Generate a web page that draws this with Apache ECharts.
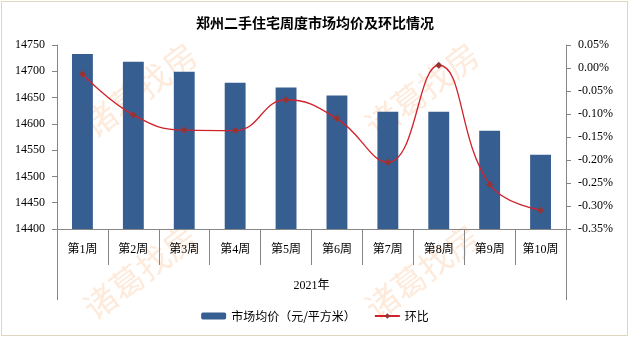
<!DOCTYPE html>
<html>
<head>
<meta charset="utf-8">
<script src="https://cdn.jsdelivr.net/npm/echarts@6/dist/echarts.min.js"></script>
<style>
html,body{margin:0;padding:0;background:#fff;}
#wrap{position:relative;width:630px;height:338px;}
#chart{position:absolute;left:0;top:0;width:630px;height:338px;}
#frame{position:absolute;left:1px;top:1px;width:627px;height:335px;box-sizing:border-box;border:1px solid #DDD8BE;pointer-events:none;}
</style>
</head>
<body>
<div id="wrap"><div id="chart"></div><div id="frame"></div></div>
<script>
const weeks = ['第1周','第2周','第3周','第4周','第5周','第6周','第7周','第8周','第9周','第10周'];
const yearLabel = ['2021年'];
const price = [14733, 14718, 14699, 14678, 14669, 14654, 14623, 14623, 14587, 14541];
const change = [-0.013, -0.102, -0.135, -0.136, -0.069, -0.110, -0.205, 0.006, -0.253, -0.309];
const seriesNames = ['市场均价（元/平方米）', '环比'];
const titleText = '郑州二手住宅周度市场均价及环比情况';
const watermark = '诸葛找房';

const serif = '"Liberation Serif","Times New Roman","Noto Sans CJK SC",serif';
const cjk = '"Noto Sans CJK SC","Liberation Serif",sans-serif';
const axisGray = '#868686';

const chart = echarts.init(document.getElementById('chart'));
const wmPos = [[140, 90], [422, 90], [140, 272], [422, 272]];
chart.setOption({
  backgroundColor: '#ffffff',
  animation: false,
  title: {
    text: titleText,
    left: 'center',
    top: 11,
    textStyle: {fontFamily: cjk, fontSize: 14, fontWeight: 'bold', color: '#000'}
  },
  graphic: wmPos.map(p => ({
    type: 'text',
    x: p[0], y: p[1],
    rotation: Math.PI * 37 / 180,
    z: -10,
    silent: true,
    style: {text: watermark, fill: 'rgba(250,185,135,0.3)', font: '33px "Noto Sans CJK SC"', align: 'center', verticalAlign: 'middle'}
  })),
  legend: {
    bottom: 11,
    left: 'center',
    itemWidth: 25,
    itemHeight: 7,
    itemGap: 18,
    textStyle: {fontFamily: cjk, fontSize: 12, color: '#000'},
    data: seriesNames
  },
  grid: [
    {left: 57, right: 64, top: 45, bottom: 109, containLabel: false},
    {left: 57, right: 64, top: 229, bottom: 38, containLabel: false}
  ],
  xAxis: [{
    type: 'category',
    gridIndex: 0,
    data: weeks,
    position: 'bottom',
    axisLine: {show: true, onZero: false, lineStyle: {color: axisGray, width: 1}},
    axisTick: {show: true, inside: false, length: 36, interval: 0, lineStyle: {color: axisGray}},
    axisLabel: {interval: 0, margin: 15, fontFamily: serif, fontSize: 12, color: '#000'},
    splitLine: {show: false}
  }, {
    type: 'category',
    gridIndex: 1,
    data: yearLabel,
    position: 'top',
    axisLine: {show: false, onZero: false},
    axisTick: {show: true, inside: true, length: 71, lineStyle: {color: axisGray}},
    axisLabel: {inside: true, margin: 51, fontFamily: serif, fontSize: 12, color: '#000'},
    splitLine: {show: false}
  }],
  yAxis: [{
    type: 'value',
    gridIndex: 0,
    min: 14400, max: 14750, interval: 50,
    axisLine: {show: true, lineStyle: {color: axisGray}},
    axisTick: {show: true, length: 5, lineStyle: {color: axisGray}},
    axisLabel: {margin: 12, fontFamily: serif, fontSize: 12, color: '#000', formatter: v => String(v)},
    splitLine: {show: false}
  }, {
    type: 'value',
    gridIndex: 0,
    min: -0.35, max: 0.05, interval: 0.05,
    position: 'right',
    axisLine: {show: true, lineStyle: {color: axisGray}},
    axisTick: {show: true, length: 5, lineStyle: {color: axisGray}},
    axisLabel: {margin: 12, fontFamily: serif, fontSize: 12, color: '#000',
      formatter: v => (Math.round(v * 100) / 100).toFixed(2) + '%'},
    splitLine: {show: false}
  }, {
    type: 'value',
    gridIndex: 1,
    show: false
  }],
  series: [{
    name: seriesNames[0],
    type: 'bar',
    data: price,
    xAxisIndex: 0, yAxisIndex: 0,
    barWidth: '41%',
    itemStyle: {color: '#375E91'},
    z: 2
  }, {
    name: seriesNames[1],
    type: 'line',
    data: change,
    xAxisIndex: 0, yAxisIndex: 1,
    smooth: 0.45,
    symbol: 'diamond',
    symbolSize: 7,
    lineStyle: {color: '#D0222A', width: 1.3},
    itemStyle: {color: '#963434'},
    z: 3
  }]
});
</script>
</body>
</html>
